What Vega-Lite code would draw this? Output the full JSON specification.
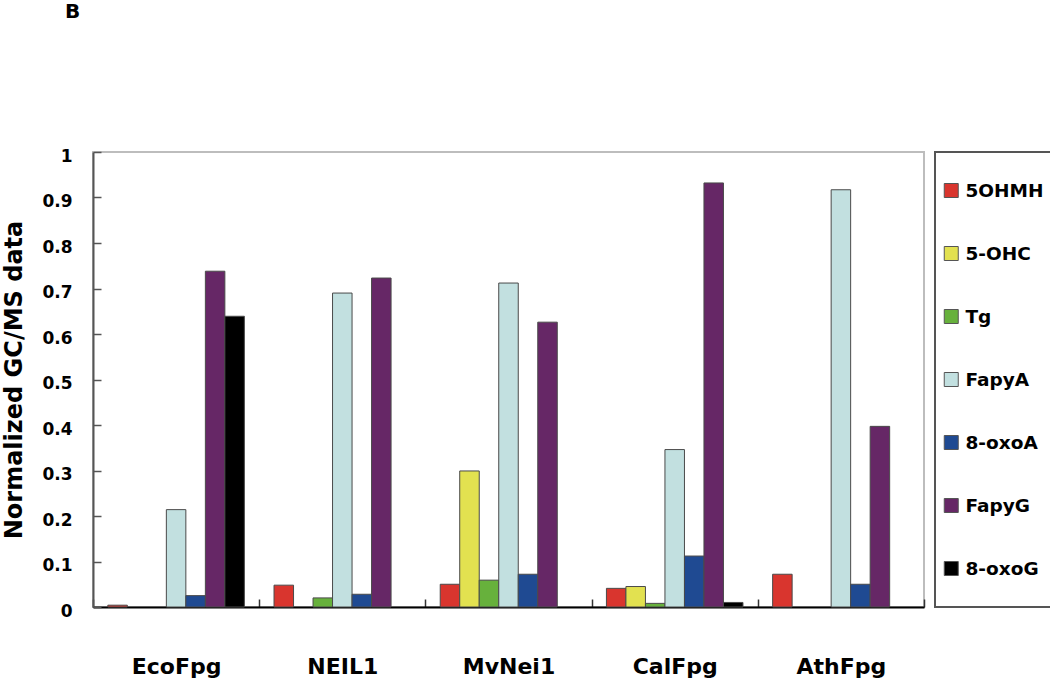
{
  "$schema": "https://vega.github.io/schema/vega-lite/v6.json",
  "width": 831,
  "height": 455,
  "autosize": {"type": "none"},
  "padding": {"left": 93, "top": 152, "right": 126, "bottom": 75},
  "background": "white",
  "title": {"text": "B", "anchor": "start", "frame": "group", "dx": -28, "offset": 125, "fontSize": 20, "font": "DejaVu Sans", "fontWeight": "bold", "color": "#000000"},
  "config": {
    "view": {"stroke": "#bdbdbd", "strokeWidth": 2},
    "font": "DejaVu Sans",
    "legend": {"strokeWidth": 2}
  },
  "data": {
    "values": [
      {"enzyme": "EcoFpg", "lesion": "5OHMH", "value": 0.004},
      {"enzyme": "EcoFpg", "lesion": "FapyA", "value": 0.214},
      {"enzyme": "EcoFpg", "lesion": "8-oxoA", "value": 0.025},
      {"enzyme": "EcoFpg", "lesion": "FapyG", "value": 0.738},
      {"enzyme": "EcoFpg", "lesion": "8-oxoG", "value": 0.639},
      {"enzyme": "NEIL1", "lesion": "5OHMH", "value": 0.048},
      {"enzyme": "NEIL1", "lesion": "Tg", "value": 0.02},
      {"enzyme": "NEIL1", "lesion": "FapyA", "value": 0.69},
      {"enzyme": "NEIL1", "lesion": "8-oxoA", "value": 0.028},
      {"enzyme": "NEIL1", "lesion": "FapyG", "value": 0.723},
      {"enzyme": "MvNei1", "lesion": "5OHMH", "value": 0.05},
      {"enzyme": "MvNei1", "lesion": "5-OHC", "value": 0.299},
      {"enzyme": "MvNei1", "lesion": "Tg", "value": 0.059},
      {"enzyme": "MvNei1", "lesion": "FapyA", "value": 0.712},
      {"enzyme": "MvNei1", "lesion": "8-oxoA", "value": 0.072},
      {"enzyme": "MvNei1", "lesion": "FapyG", "value": 0.626},
      {"enzyme": "CalFpg", "lesion": "5OHMH", "value": 0.041},
      {"enzyme": "CalFpg", "lesion": "5-OHC", "value": 0.045},
      {"enzyme": "CalFpg", "lesion": "Tg", "value": 0.008},
      {"enzyme": "CalFpg", "lesion": "FapyA", "value": 0.346},
      {"enzyme": "CalFpg", "lesion": "8-oxoA", "value": 0.112},
      {"enzyme": "CalFpg", "lesion": "FapyG", "value": 0.932},
      {"enzyme": "CalFpg", "lesion": "8-oxoG", "value": 0.01},
      {"enzyme": "AthFpg", "lesion": "5OHMH", "value": 0.072},
      {"enzyme": "AthFpg", "lesion": "FapyA", "value": 0.917},
      {"enzyme": "AthFpg", "lesion": "8-oxoA", "value": 0.05},
      {"enzyme": "AthFpg", "lesion": "FapyG", "value": 0.397}
    ]
  },
  "mark": {"type": "bar", "stroke": "#4a4a4a", "strokeWidth": 1},
  "encoding": {
    "x": {
      "field": "enzyme",
      "type": "nominal",
      "sort": ["EcoFpg", "NEIL1", "MvNei1", "CalFpg", "AthFpg"],
      "scale": {"paddingInner": 0, "paddingOuter": 0},
      "axis": {
        "title": null,
        "labelAngle": 0,
        "labelFont": "DejaVu Sans",
        "labelFontWeight": "bold",
        "labelFontSize": 22,
        "labelColor": "#000000",
        "labelBaseline": "top",
        "labelPadding": 57,
        "tickSize": -8,
        "tickBand": "extent",
        "tickColor": "#333333",
        "tickWidth": 1.5,
        "domainColor": "#000000",
        "domainWidth": 2
      }
    },
    "xOffset": {
      "field": "lesion",
      "type": "nominal",
      "scale": {"domain": ["5OHMH", "5-OHC", "Tg", "FapyA", "8-oxoA", "FapyG", "8-oxoG"], "paddingInner": 0, "paddingOuter": 0.76}
    },
    "y": {
      "field": "value",
      "type": "quantitative",
      "scale": {"domain": [0, 1], "nice": false},
      "axis": {
        "title": "Normalized GC/MS data",
        "values": [0, 0.1, 0.2, 0.3, 0.4, 0.5, 0.6, 0.7, 0.8, 0.9, 1],
        "format": "~g",
        "grid": false,
        "tickSize": -8,
        "tickColor": "#555555",
        "tickWidth": 1.5,
        "domainColor": "#555555",
        "domainWidth": 2,
        "labelFont": "DejaVu Sans",
        "labelFontWeight": "bold",
        "labelFontSize": 17,
        "labelColor": "#000000",
        "labelPadding": 29,
        "labelOffset": 4,
        "titleFont": "DejaVu Sans",
        "titleFontWeight": "bold",
        "titleFontSize": 24,
        "titleColor": "#000000",
        "titleAngle": -90,
        "titleAlign": "center",
        "titleBaseline": "middle",
        "titleX": -79,
        "titleY": 227.5
      }
    },
    "color": {
      "field": "lesion",
      "type": "nominal",
      "scale": {
        "domain": ["5OHMH", "5-OHC", "Tg", "FapyA", "8-oxoA", "FapyG", "8-oxoG"],
        "range": ["#d9352e", "#e2e150", "#67b13c", "#c2e0e0", "#1f4a92", "#662766", "#000000"]
      },
      "legend": {
        "orient": "none",
        "legendX": 842,
        "legendY": 0,
        "direction": "vertical",
        "title": null,
        "padding": 7,
        "strokeColor": "#555555",
        "symbolType": "square",
        "symbolSize": 196,
        "symbolStrokeColor": "#555555",
        "symbolStrokeWidth": 1,
        "symbolOpacity": 1,
        "labelFont": "DejaVu Sans",
        "labelFontWeight": "bold",
        "labelFontSize": 18.5,
        "labelColor": "#000000",
        "labelOffset": 5,
        "clipHeight": 63,
        "rowPadding": 0
      }
    }
  }
}
